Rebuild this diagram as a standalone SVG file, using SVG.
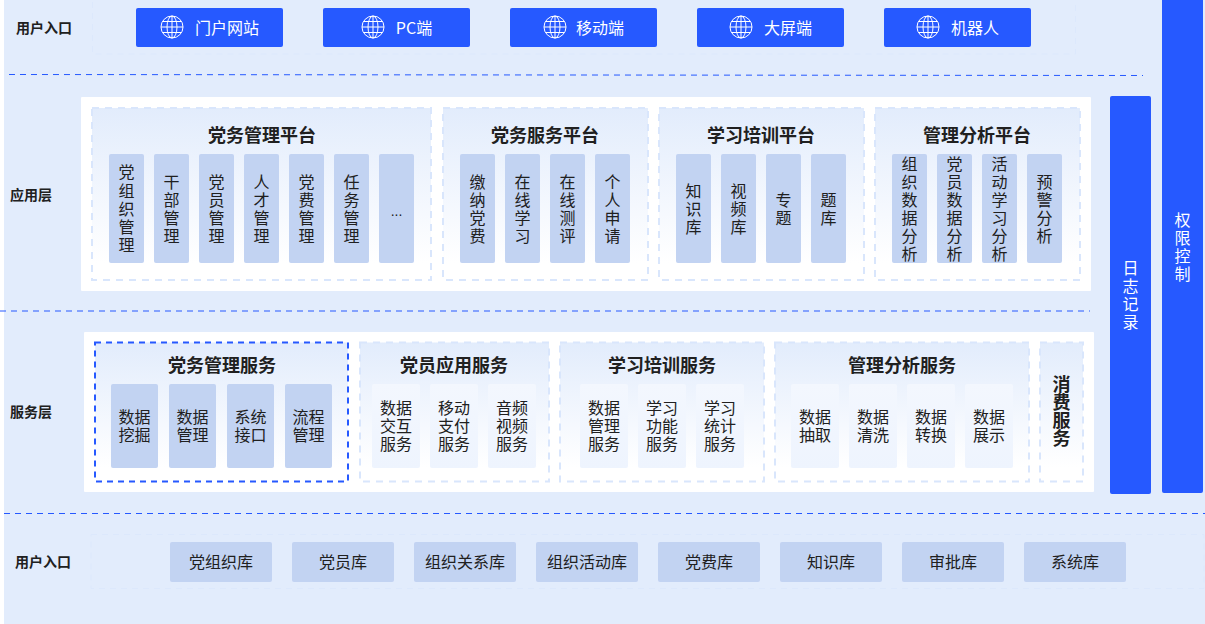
<svg xmlns="http://www.w3.org/2000/svg" width="1205" height="624" viewBox="0 0 1205 624">
<style>
text{font-family:"Noto Sans CJK SC","Noto Sans",sans-serif;fill:#202020;text-anchor:middle}
.lbl{font-size:14px;font-weight:700}
.h{font-size:18px;font-weight:700}
.t{font-size:16px}
.w{fill:#fff}
.pan{fill:#fff}
.sub{fill:url(#g);stroke:#d9e6fc;stroke-width:2;stroke-dasharray:7 6}
.outer{fill:none;stroke:#dce8fc;stroke-width:1;stroke-dasharray:6 5}
.it{fill:#c2d3f2}
.lt{fill:url(#g2)}
.btn{fill:#2659ff}
.div{stroke:#2659ff;stroke-width:1;stroke-dasharray:6 5;fill:none}
.gl{fill:none;stroke:#fff;stroke-width:1}
</style>
<defs>
<linearGradient id="g" x1="0" y1="0" x2="0" y2="1"><stop offset="0" stop-color="#e2ecfc"/><stop offset="0.9" stop-color="#fff"/></linearGradient>
<linearGradient id="g2" x1="0" y1="0" x2="0" y2="1"><stop offset="0" stop-color="#f3f7fe"/><stop offset="1" stop-color="#eef4fe"/></linearGradient>
<g id="globe" class="gl"><circle r="11"/><ellipse rx="5" ry="11"/><path d="M0-11V11M-11 0H11M-9.500-5.500H9.500M-9.500 5.500H9.500"/></g>
</defs>
<rect width="1205" height="624" fill="#fff"/>
<rect x="4" y="0" width="1201" height="624" fill="#e2ecfc"/>
<g id="connectors">
<path class="div" d="M9 74.500L1143 75.500"/>
<path class="div" d="M0 311H1090"/>
<path class="div" d="M4 513.500H1205"/>
</g>
<g id="layer-entry">
<rect class="outer" x="92.500" y="-2" width="983" height="56"/>
<text class="lbl" x="44" y="33">用户入口</text>
</g>
<g id="btn1"><rect class="btn" x="136" y="8" width="147" height="39" rx="2"/><use href="#globe" x="172" y="27"/><text class="t w" x="227" y="34">门户网站</text></g>
<g id="btn2"><rect class="btn" x="323" y="8" width="147" height="39" rx="2"/><use href="#globe" x="373" y="27"/><text class="t w" x="414" y="34">PC端</text></g>
<g id="btn3"><rect class="btn" x="510" y="8" width="147" height="39" rx="2"/><use href="#globe" x="555" y="27"/><text class="t w" x="600" y="34">移动端</text></g>
<g id="btn4"><rect class="btn" x="697" y="8" width="147" height="39" rx="2"/><use href="#globe" x="741" y="27"/><text class="t w" x="788" y="34">大屏端</text></g>
<g id="btn5"><rect class="btn" x="884" y="8" width="147" height="39" rx="2"/><use href="#globe" x="928" y="27"/><text class="t w" x="975" y="34">机器人</text></g>

<g id="app-layer">
<text class="lbl" x="31" y="200">应用层</text>
<rect class="pan" x="81" y="97" width="1010" height="194" rx="1"/>
</g>
<g id="p1"><rect class="sub" x="92" y="108" width="339" height="172"/><text class="h" x="262" y="142">党务管理平台</text>
<rect class="it" x="109" y="154" width="35" height="109" rx="2"/><text class="t"><tspan x="126.500" y="178">党</tspan><tspan x="126.500" y="197">组</tspan><tspan x="126.500" y="215">织</tspan><tspan x="126.500" y="233">管</tspan><tspan x="126.500" y="251">理</tspan></text>
<rect class="it" x="154" y="154" width="35" height="109" rx="2"/><text class="t"><tspan x="171.500" y="188">干</tspan><tspan x="171.500" y="206">部</tspan><tspan x="171.500" y="224">管</tspan><tspan x="171.500" y="242">理</tspan></text>
<rect class="it" x="199" y="154" width="35" height="109" rx="2"/><text class="t"><tspan x="216.500" y="188">党</tspan><tspan x="216.500" y="206">员</tspan><tspan x="216.500" y="224">管</tspan><tspan x="216.500" y="242">理</tspan></text>
<rect class="it" x="244" y="154" width="35" height="109" rx="2"/><text class="t"><tspan x="261.500" y="188">人</tspan><tspan x="261.500" y="206">才</tspan><tspan x="261.500" y="224">管</tspan><tspan x="261.500" y="242">理</tspan></text>
<rect class="it" x="289" y="154" width="35" height="109" rx="2"/><text class="t"><tspan x="306.500" y="188">党</tspan><tspan x="306.500" y="206">费</tspan><tspan x="306.500" y="224">管</tspan><tspan x="306.500" y="242">理</tspan></text>
<rect class="it" x="334" y="154" width="35" height="109" rx="2"/><text class="t"><tspan x="351.500" y="188">任</tspan><tspan x="351.500" y="206">务</tspan><tspan x="351.500" y="224">管</tspan><tspan x="351.500" y="242">理</tspan></text>
<rect class="it" x="379" y="154" width="35" height="109" rx="2"/><text class="t" x="396.500" y="216" style="font-family:'Liberation Sans',sans-serif;font-size:14px">...</text>
</g>
<g id="p2"><rect class="sub" x="443" y="108" width="205" height="172"/><text class="h" x="545" y="142">党务服务平台</text>
<rect class="it" x="460" y="154" width="35" height="109" rx="2"/><text class="t"><tspan x="477.500" y="188">缴</tspan><tspan x="477.500" y="206">纳</tspan><tspan x="477.500" y="224">党</tspan><tspan x="477.500" y="242">费</tspan></text>
<rect class="it" x="505" y="154" width="35" height="109" rx="2"/><text class="t"><tspan x="522.500" y="188">在</tspan><tspan x="522.500" y="206">线</tspan><tspan x="522.500" y="224">学</tspan><tspan x="522.500" y="242">习</tspan></text>
<rect class="it" x="550" y="154" width="35" height="109" rx="2"/><text class="t"><tspan x="567.500" y="188">在</tspan><tspan x="567.500" y="206">线</tspan><tspan x="567.500" y="224">测</tspan><tspan x="567.500" y="242">评</tspan></text>
<rect class="it" x="595" y="154" width="35" height="109" rx="2"/><text class="t"><tspan x="612.500" y="188">个</tspan><tspan x="612.500" y="206">人</tspan><tspan x="612.500" y="224">申</tspan><tspan x="612.500" y="242">请</tspan></text>
</g>
<g id="p3"><rect class="sub" x="659" y="108" width="205" height="172"/><text class="h" x="761" y="142">学习培训平台</text>
<rect class="it" x="676" y="154" width="35" height="109" rx="2"/><text class="t"><tspan x="693.500" y="197">知</tspan><tspan x="693.500" y="215">识</tspan><tspan x="693.500" y="233">库</tspan></text>
<rect class="it" x="721" y="154" width="35" height="109" rx="2"/><text class="t"><tspan x="738.500" y="197">视</tspan><tspan x="738.500" y="215">频</tspan><tspan x="738.500" y="233">库</tspan></text>
<rect class="it" x="766" y="154" width="35" height="109" rx="2"/><text class="t"><tspan x="783.500" y="206">专</tspan><tspan x="783.500" y="224">题</tspan></text>
<rect class="it" x="811" y="154" width="35" height="109" rx="2"/><text class="t"><tspan x="828.500" y="206">题</tspan><tspan x="828.500" y="224">库</tspan></text>
</g>
<g id="p4"><rect class="sub" x="875" y="108" width="205" height="172"/><text class="h" x="977" y="142">管理分析平台</text>
<rect class="it" x="892" y="154" width="35" height="109" rx="2"/><text class="t"><tspan x="909.500" y="170">组</tspan><tspan x="909.500" y="188">织</tspan><tspan x="909.500" y="206">数</tspan><tspan x="909.500" y="224">据</tspan><tspan x="909.500" y="242">分</tspan><tspan x="909.500" y="260">析</tspan></text>
<rect class="it" x="937" y="154" width="35" height="109" rx="2"/><text class="t"><tspan x="954.500" y="170">党</tspan><tspan x="954.500" y="188">员</tspan><tspan x="954.500" y="206">数</tspan><tspan x="954.500" y="224">据</tspan><tspan x="954.500" y="242">分</tspan><tspan x="954.500" y="260">析</tspan></text>
<rect class="it" x="982" y="154" width="35" height="109" rx="2"/><text class="t"><tspan x="999.500" y="170">活</tspan><tspan x="999.500" y="188">动</tspan><tspan x="999.500" y="206">学</tspan><tspan x="999.500" y="224">习</tspan><tspan x="999.500" y="242">分</tspan><tspan x="999.500" y="260">析</tspan></text>
<rect class="it" x="1027" y="154" width="35" height="109" rx="2"/><text class="t"><tspan x="1044.500" y="188">预</tspan><tspan x="1044.500" y="206">警</tspan><tspan x="1044.500" y="224">分</tspan><tspan x="1044.500" y="242">析</tspan></text>
</g>

<g id="service-layer">
<text class="lbl" x="31" y="417">服务层</text>
<rect class="pan" x="84" y="332" width="1010" height="160" rx="1"/>
</g>
<g id="s1"><rect x="95" y="342.500" width="253" height="139" fill="url(#g)" stroke="#2659ff" stroke-width="2" stroke-dasharray="6 5"/><text class="h" x="222" y="372">党务管理服务</text>
<rect class="it" x="111" y="384" width="47" height="84" rx="2"/><text class="t"><tspan x="134.500" y="423">数据</tspan><tspan x="134.500" y="441">挖掘</tspan></text>
<rect class="it" x="169" y="384" width="47" height="84" rx="2"/><text class="t"><tspan x="192.500" y="423">数据</tspan><tspan x="192.500" y="441">管理</tspan></text>
<rect class="it" x="227" y="384" width="47" height="84" rx="2"/><text class="t"><tspan x="250.500" y="423">系统</tspan><tspan x="250.500" y="441">接口</tspan></text>
<rect class="it" x="285" y="384" width="47" height="84" rx="2"/><text class="t"><tspan x="308.500" y="423">流程</tspan><tspan x="308.500" y="441">管理</tspan></text>
</g>
<g id="s2"><rect class="sub" x="360" y="342.500" width="189" height="139"/><text class="h" x="454" y="372">党员应用服务</text>
<rect class="lt" x="372" y="384" width="48" height="84" rx="2"/><text class="t"><tspan x="396" y="414">数据</tspan><tspan x="396" y="432">交互</tspan><tspan x="396" y="450">服务</tspan></text>
<rect class="lt" x="430" y="384" width="48" height="84" rx="2"/><text class="t"><tspan x="454" y="414">移动</tspan><tspan x="454" y="432">支付</tspan><tspan x="454" y="450">服务</tspan></text>
<rect class="lt" x="488" y="384" width="48" height="84" rx="2"/><text class="t"><tspan x="512" y="414">音频</tspan><tspan x="512" y="432">视频</tspan><tspan x="512" y="450">服务</tspan></text>
</g>
<g id="s3"><rect class="sub" x="560" y="342.500" width="204" height="139"/><text class="h" x="662" y="372">学习培训服务</text>
<rect class="lt" x="580" y="384" width="48" height="84" rx="2"/><text class="t"><tspan x="604" y="414">数据</tspan><tspan x="604" y="432">管理</tspan><tspan x="604" y="450">服务</tspan></text>
<rect class="lt" x="638" y="384" width="48" height="84" rx="2"/><text class="t"><tspan x="662" y="414">学习</tspan><tspan x="662" y="432">功能</tspan><tspan x="662" y="450">服务</tspan></text>
<rect class="lt" x="696" y="384" width="48" height="84" rx="2"/><text class="t"><tspan x="720" y="414">学习</tspan><tspan x="720" y="432">统计</tspan><tspan x="720" y="450">服务</tspan></text>
</g>
<g id="s4"><rect class="sub" x="775" y="342.500" width="254" height="139"/><text class="h" x="902" y="372">管理分析服务</text>
<rect class="lt" x="791" y="384" width="48" height="84" rx="2"/><text class="t"><tspan x="815" y="423">数据</tspan><tspan x="815" y="441">抽取</tspan></text>
<rect class="lt" x="849" y="384" width="48" height="84" rx="2"/><text class="t"><tspan x="873" y="423">数据</tspan><tspan x="873" y="441">清洗</tspan></text>
<rect class="lt" x="907" y="384" width="48" height="84" rx="2"/><text class="t"><tspan x="931" y="423">数据</tspan><tspan x="931" y="441">转换</tspan></text>
<rect class="lt" x="965" y="384" width="48" height="84" rx="2"/><text class="t"><tspan x="989" y="423">数据</tspan><tspan x="989" y="441">展示</tspan></text>
</g>
<g id="s5"><rect class="sub" x="1040" y="342.500" width="43" height="139"/><text class="h"><tspan x="1061.500" y="391">消</tspan><tspan x="1061.500" y="409">费</tspan><tspan x="1061.500" y="427">服</tspan><tspan x="1061.500" y="445">务</tspan></text></g>

<g id="log"><rect class="btn" x="1110" y="96" width="41" height="398" rx="2"/><text class="t w"><tspan x="1130.500" y="274">日</tspan><tspan x="1130.500" y="292">志</tspan><tspan x="1130.500" y="310">记</tspan><tspan x="1130.500" y="328">录</tspan></text></g>
<g id="perm"><rect class="btn" x="1162" y="-4" width="41" height="497" rx="2"/><text class="t w"><tspan x="1182.500" y="226">权</tspan><tspan x="1182.500" y="244">限</tspan><tspan x="1182.500" y="262">控</tspan><tspan x="1182.500" y="280">制</tspan></text></g>

<g id="data-layer">
<rect class="outer" x="91" y="534.500" width="1113" height="54"/>
<text class="lbl" x="43" y="567">用户入口</text>
</g>
<g id="d1"><rect class="it" x="170" y="542" width="102" height="40" rx="2"/><text class="t" x="221" y="568">党组织库</text></g>
<g id="d2"><rect class="it" x="292" y="542" width="102" height="40" rx="2"/><text class="t" x="343" y="568">党员库</text></g>
<g id="d3"><rect class="it" x="414" y="542" width="102" height="40" rx="2"/><text class="t" x="465" y="568">组织关系库</text></g>
<g id="d4"><rect class="it" x="536" y="542" width="102" height="40" rx="2"/><text class="t" x="587" y="568">组织活动库</text></g>
<g id="d5"><rect class="it" x="658" y="542" width="102" height="40" rx="2"/><text class="t" x="709" y="568">党费库</text></g>
<g id="d6"><rect class="it" x="780" y="542" width="102" height="40" rx="2"/><text class="t" x="831" y="568">知识库</text></g>
<g id="d7"><rect class="it" x="902" y="542" width="102" height="40" rx="2"/><text class="t" x="953" y="568">审批库</text></g>
<g id="d8"><rect class="it" x="1024" y="542" width="102" height="40" rx="2"/><text class="t" x="1075" y="568">系统库</text></g>
</svg>
